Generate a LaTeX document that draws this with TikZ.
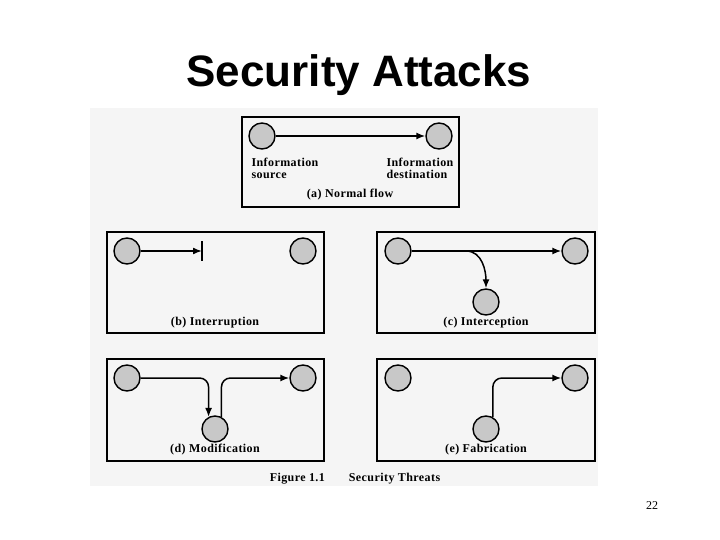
\documentclass[tikz,border=0pt]{standalone}
\usepackage{fontspec}
\setmainfont{Liberation Serif}
\newfontfamily\titlefont{Liberation Sans}
\newfontfamily\figfont[LetterSpace=3.5]{Liberation Serif}
\usetikzlibrary{arrows.meta}
\definecolor{figbg}{RGB}{245,245,245}
\definecolor{dotgray}{RGB}{200,200,200}
\tikzset{
  dot/.style={circle,draw,line width=1.4pt,fill=dotgray,minimum size=26pt,inner sep=0pt},
  panel/.style={draw,line width=1.5pt},
  figtext/.style={font=\figfont\bfseries\fontsize{12}{12}\selectfont},
  flow/.style={line width=1.5pt,-{Latex[length=9pt,width=7pt]}}
}
\begin{document}
\begin{tikzpicture}[x=1pt,y=-1pt]
      \useasboundingbox (0,0) rectangle (720,540);
      \fill[figbg] (90,108) rectangle (598,486);
      % title
      \node (title)[font=\titlefont\bfseries\fontsize{44}{44}\selectfont] at (359,75) {Security Attacks};
      % panels
      \draw[panel] (242,117) rectangle (459,207);
      \draw[panel] (107,232) rectangle (324,333);
      \draw[panel] (377,232) rectangle (595,333);
      \draw[panel] (107,359) rectangle (324,461);
      \draw[panel] (377,359) rectangle (595,461);
      \draw
        (262,136) node[dot] (asrc){}
        (439,136) node[dot] (adst){}
        (127,251) node[dot] (bsrc){}
        (303,251) node[dot] (bdst){}
        (398,251) node[dot] (csrc){}
        (575,251) node[dot] (cdst){}
        (486,302) node[dot] (cmid){}
        (127,378) node[dot] (dsrc){}
        (303,378) node[dot] (ddst){}
        (215,429) node[dot] (dmid){}
        (398,378) node[dot] (esrc){}
        (575,378) node[dot] (edst){}
        (486,429) node[dot] (emid){};
      \coordinate (bcut) at (202,251);
      \coordinate (ctap) at (466,251);
      % labels
      \node (asrctext)[figtext,anchor=west,align=left] at (248,168) {Information\\source};
      \node (adsttext)[figtext,anchor=west,align=left] at (383,168) {Information\\destination};
      \node (acap)[figtext] at (350,195) {(a) Normal flow};
      \node (bcap)[figtext] at (215,323) {(b) Interruption};
      \node (ccap)[figtext] at (486,323) {(c) Interception};
      \node (dcap)[figtext] at (215,450) {(d) Modification};
      \node (ecap)[figtext] at (486,450) {(e) Fabrication};
      \node (figcap)[figtext] at (355,479) {Figure 1.1\quad\quad Security Threats};
      \node (pagenum)[font=\fontsize{12}{12}\selectfont] at (652,506) {22};
      \begin{scope}[flow]
        \draw (asrc) -- (adst);
        \draw (bsrc) -- (bcut);
        \draw (csrc) -- (cdst);
        \draw (ctap) to[out=0,in=90] (cmid);
        \draw[rounded corners=9pt] (dsrc.east) -| (dmid.118);
        \draw[rounded corners=9pt] (dmid.62) |- (ddst.west);
        \draw[rounded corners=9pt] (emid.60) |- (edst.west);
      \end{scope}
      \draw[line width=1.5pt] (bcut) ++(0,-10) -- ++(0,20);
    \end{tikzpicture}
\end{document}
